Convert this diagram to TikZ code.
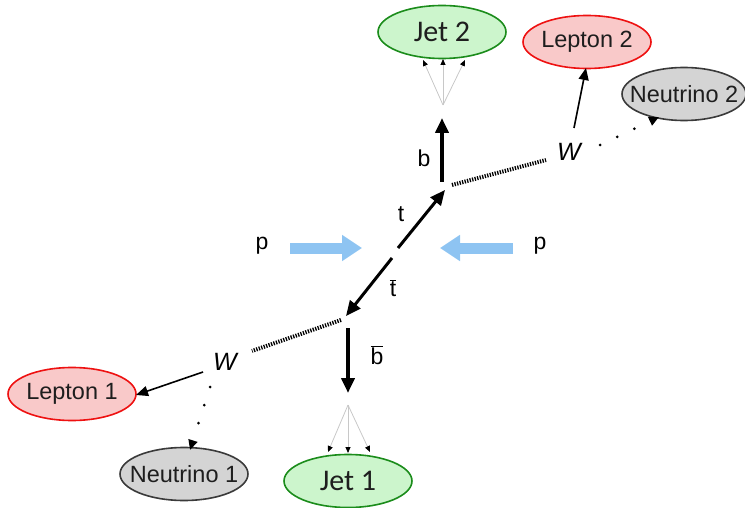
\documentclass[tikz,border=0pt]{standalone}
\usepackage{fontspec}
\setmainfont{Liberation Sans}
\newfontfamily\jetfont{Carlito}
\usetikzlibrary{arrows.meta,shapes.geometric}
\definecolor{jetfill}{HTML}{CCF5CC}
\definecolor{jetdraw}{HTML}{1B8C1B}
\definecolor{lepfill}{HTML}{F9C9C9}
\definecolor{lepdraw}{HTML}{EE1111}
\definecolor{nufill}{HTML}{D4D4D4}
\definecolor{nudraw}{HTML}{3A3A3A}
\definecolor{pblue}{HTML}{8EC4F2}
\definecolor{fan}{HTML}{C8C8C8}
\definecolor{txt}{HTML}{1E1E1E}
\tikzset{
  blob/.style={ellipse, minimum width=128pt, minimum height=53pt, inner xsep=-12pt, inner ysep=0pt, line width=1.6pt, text=txt},
  jetnode/.style={blob, fill=jetfill, draw=jetdraw, font=\jetfont\fontsize{30}{32}\selectfont},
  lepnode/.style={blob, fill=lepfill, draw=lepdraw, font=\fontsize{23.5}{26}\selectfont},
  nunode/.style={blob, fill=nufill, draw=nudraw, font=\fontsize{23.5}{26}\selectfont},
  lbl/.style={font=\fontsize{23}{25}\selectfont, inner sep=0pt},
  wlbl/.style={font=\itshape\fontsize{25}{27}\selectfont, inner sep=0pt},
  quark/.style={line width=4pt, -{Triangle[length=15pt,width=13pt]}},
  topq/.style={line width=3pt, -{Triangle[length=15pt,width=13pt]}},
  wline/.style={line width=4pt, dash pattern=on 1.3pt off 1.3pt},
  lepline/.style={line width=1.6pt, -{Triangle[length=12pt,width=10pt]}},
  nuline/.style={line width=3pt, line cap=round, dash pattern=on 0pt off 19pt, -{Triangle[length=10pt,width=9pt]}},
  fanline/.style={draw=fan, line width=0.8pt, -{Triangle[length=6pt,width=5pt,color=black,fill=black]}},
  beam/.style={draw=pblue, line width=11pt, -{Triangle[length=20pt,width=25pt,color=pblue,fill=pblue]}}
}
\begin{document}
\begin{tikzpicture}[x=1pt,y=-1pt]
\useasboundingbox (0,0) rectangle (745,508);
% ellipses
\node[jetnode] (jet2) at (442,32) {Jet 2};
\node[lepnode] (lep2) at (587,42) {Lepton 2};
\node[nunode, minimum width=124pt] (nu2) at (684,94) {Neutrino 2};
\node[lepnode] (lep1) at (72,394) {Lepton 1};
\node[nunode] (nu1) at (184,474) {Neutrino 1};
\node[jetnode] (jet1) at (348,481) {Jet 1};
% vertices
\coordinate (tstart) at (398,248);
\coordinate (tbstart) at (392,258);
\coordinate (tend) at (445,190);
\coordinate (tbend) at (346,316);
\coordinate (bstart) at (442,182);
\coordinate (bend) at (442,118);
\coordinate (bbstart) at (348,328);
\coordinate (bbend) at (348,393);
\coordinate (wtopstart) at (452,185);
\coordinate (wtopend) at (546,160);
\coordinate (wbotstart) at (341,320);
\coordinate (wbotend) at (252,351);
\coordinate (apex2) at (443,105);
\coordinate (apex1) at (348,405);
\coordinate (j2a) at (423,60);
\coordinate (j2b) at (443,59);
\coordinate (j2c) at (465,60);
\coordinate (j1a) at (328,452);
\coordinate (j1b) at (348,453);
\coordinate (j1c) at (370,452);
\coordinate (l2s) at (574,128);
\coordinate (l2e) at (586,68);
\coordinate (n2s) at (600,145);
\coordinate (n2e) at (659,117);
\coordinate (l1s) at (203,372);
\coordinate (l1e) at (136,395);
\coordinate (n1s) at (210,387);
\coordinate (n1e) at (190,450);
\coordinate (pl1) at (290,248);
\coordinate (pl2) at (362,248);
\coordinate (pr1) at (513,248);
\coordinate (pr2) at (440,248);
% labels
\node[wlbl] (w2) at (569,152) {W};
\node[wlbl] (w1) at (225,362) {W};
\node[lbl] (blab) at (424,158) {b};
\node[lbl] (bblab) at (377,355) {$\overline{\mbox{b}}$};
\node[lbl] (tlab) at (401,214) {t};
\node[lbl] (tblab) at (393,288) {$\overline{\mbox{t}}$};
\node[lbl] (pl) at (262,246) {p};
\node[lbl] (pr) at (540,246) {p};
% beams
\draw[beam] (pl1) -- (pl2);
\draw[beam] (pr1) -- (pr2);
% top quarks
\draw[topq] (tstart) -- (tend);
\draw[topq] (tbstart) -- (tbend);
% b quarks
\draw[quark] (bstart) -- (bend);
\draw[quark] (bbstart) -- (bbend);
% W lines
\draw[wline] (wtopstart) -- (wtopend);
\draw[wline] (wbotstart) -- (wbotend);
% leptons
\draw[lepline] (l2s) -- (l2e);
\draw[lepline] (l1s) -- (l1e);
% neutrinos
\draw[nuline] (n2s) -- (n2e);
\draw[nuline] (n1s) -- (n1e);
% jet fans
\foreach \tg in {j2a,j2b,j2c} \draw[fanline] (apex2) -- (\tg);
\foreach \tg in {j1a,j1b,j1c} \draw[fanline] (apex1) -- (\tg);
\end{tikzpicture}
\end{document}
